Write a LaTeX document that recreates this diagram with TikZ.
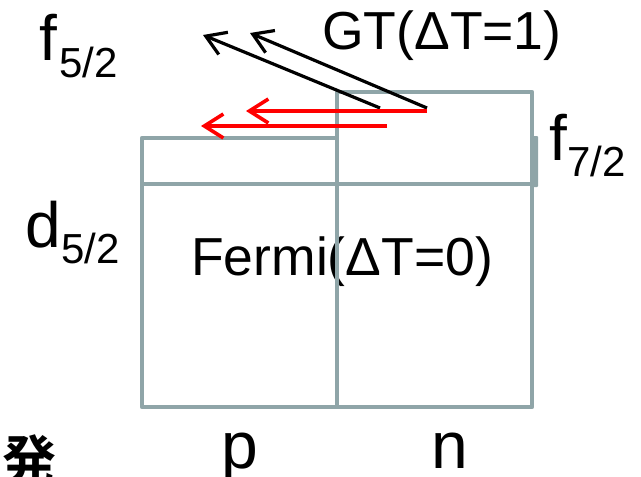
\documentclass[tikz,border=0pt]{standalone}
\usepackage{fontspec}
\setmainfont{Liberation Sans}
\newfontfamily\cjkfont{Noto Sans CJK JP}[BoldFont={Noto Sans CJK JP Bold}]
\usetikzlibrary{arrows.meta}
\definecolor{boxgray}{HTML}{8FA5A8}
\definecolor{arrred}{HTML}{FF0000}
\tikzset{
  shell/.style={draw=boxgray, line width=4.4pt, line join=round, inner sep=0pt, outer sep=0pt},
  gtarrow/.style={-{Straight Barb[length=19pt,width=24pt,line width=3.2pt]}, line width=3.2pt, black},
  fermiarrow/.style={-{Straight Barb[length=19pt,width=24pt,line width=3.6pt]}, line width=3.6pt, arrred},
  bigtext/.style={inner sep=0pt, anchor=base west, font=\fontsize{53.5}{53.5}\selectfont},
  orbit/.style={inner sep=0pt, anchor=base west, font=\fontsize{64}{64}\selectfont},
  orbsub/.style={inner sep=0pt, anchor=base west, font=\fontsize{42}{42}\selectfont},
  pn/.style={inner sep=0pt, anchor=base west, font=\fontsize{66}{66}\selectfont},
}
\begin{document}
\begin{tikzpicture}[x=1pt,y=-1pt]
\useasboundingbox (0,0) rectangle (641,477);
\clip (0,0) rectangle (641,477);
% text behind the boxes
\node[bigtext] (fermi) at (191,275) {Fermi(ΔT=0)};
\node[bigtext] (gt) at (322,49) {GT(ΔT=1)};
% boxes
\node[shell, minimum width=195pt, minimum height=269pt, anchor=north west] (pbox) at (142,138) {};
\node[shell, minimum width=195pt, minimum height=315pt, anchor=north west] (nbox) at (337,92) {};
\coordinate (hl) at (142,184);
\coordinate (hr) at (532,184);
\draw[shell] (hl) -- (hr);
\fill[boxgray, rounded corners=1pt] (530,136) rectangle (538,187);
% orbit labels
\node[orbit] (f52) at (39,60) {f};
\node[orbsub] (f52s) at (59,77) {5/2};
\node[orbit] (f72) at (549,160) {f};
\node[orbsub] (f72s) at (567,176) {7/2};
\node[orbit] (d52) at (25,247) {d};
\node[orbsub] (d52s) at (61,263) {5/2};
% p n
\node[pn] (p) at (221,468) {p};
\node[pn] (n) at (431,468) {n};
% kanji
\node[inner sep=0pt, anchor=base west, font=\cjkfont\bfseries\fontsize{54}{54}\selectfont] (kanji) at (2,480) {発};
% arrows
\coordinate (ga1) at (427,108);
\coordinate (gb1) at (250,33);
\coordinate (ga2) at (380,108);
\coordinate (gb2) at (203,35);
\coordinate (ra1) at (427,111);
\coordinate (rb1) at (246,111);
\coordinate (ra2) at (387,126);
\coordinate (rb2) at (201,126);
\draw[gtarrow] (ga1) -- (gb1);
\draw[gtarrow] (ga2) -- (gb2);
\draw[fermiarrow] (ra1) -- (rb1);
\draw[fermiarrow] (ra2) -- (rb2);
\end{tikzpicture}
\end{document}
